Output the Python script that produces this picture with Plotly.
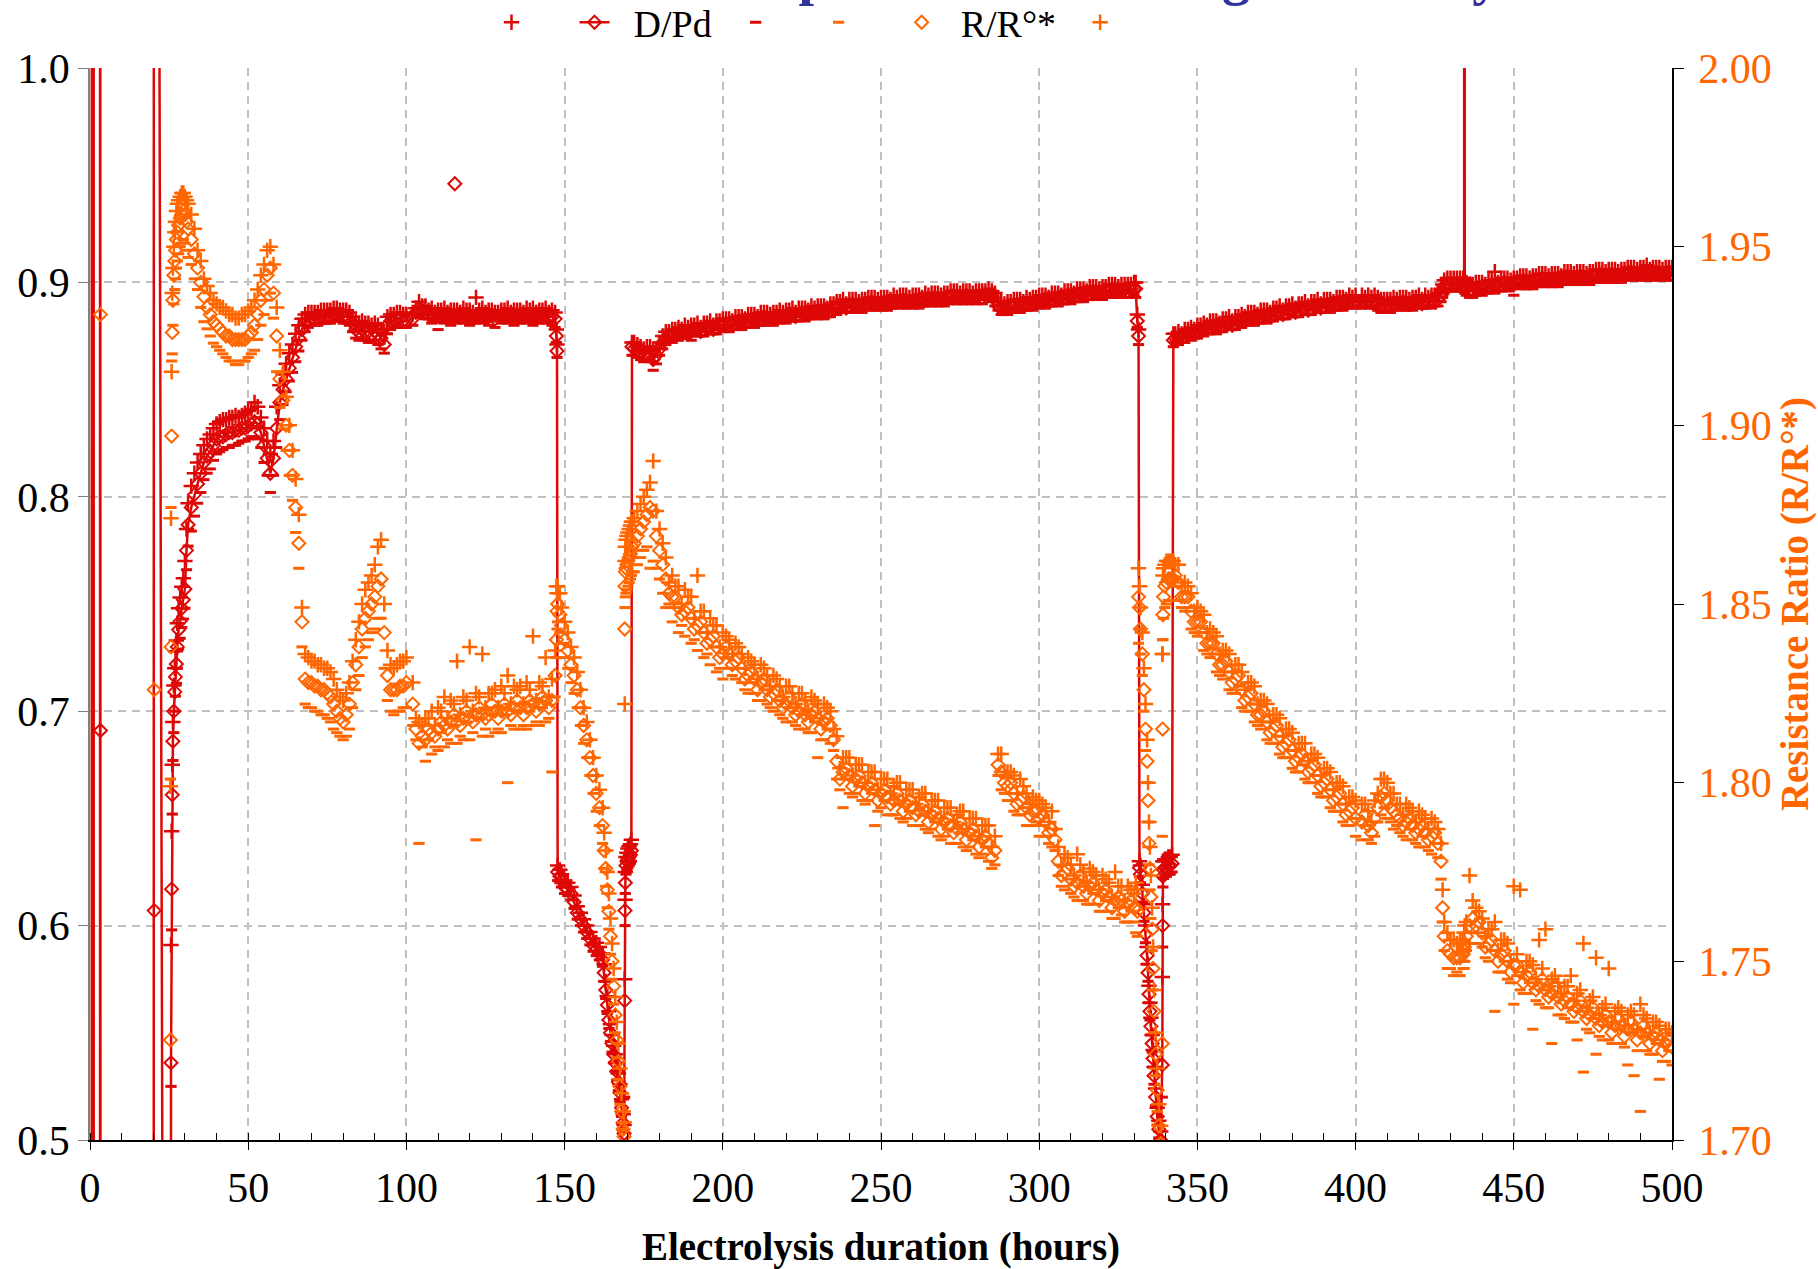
import plotly.graph_objects as go

N = None

# ---------------- data ----------------
hours = [
    0.55, 0.6, 1.15, 1.2, 3.15, 3.2, 3.3, 3.4, 20.1, 20.2, 20.3, 20.4, 25.4, 25.5,
    25.6, 25.8, 26.0, 26.2, 26.5, 26.8, 27.0, 27.3, 27.6, 28.0, 28.5, 29.0, 29.5, 30.0, 30.5,
    31, 32, 33, 34, 35, 36, 37, 38, 39, 40,
    41, 42, 43, 44, 45, 46, 47, 48, 49, 50,
    51, 52, 53, 54, 55, 56, 57, 58, 59, 60,
    61, 62, 63, 64, 65, 66, 67, 68, 69, 70,
    71, 72, 73, 74, 75, 76, 77, 78, 79, 80,
    81, 82, 83, 84, 85, 86, 87, 88, 89, 90,
    91, 92, 93, 94, 95, 96, 97, 98, 99, 100,
    102, 104, 106, 108, 110, 112, 114, 116, 118, 120, 122, 124, 126, 128, 130, 132, 134, 136, 138, 140, 142, 144, 146,
    147, 147.4, 147.6, 147.8,
    148.5, 149, 150, 151, 152, 153, 154, 155, 156, 157, 158, 159, 160, 161, 162,
    162.5, 163, 163.5, 164, 164.5, 165, 165.5, 166, 166.5, 167, 167.5, 168, 168.5, 168.8,
    169.0, 169.1, 169.2, 169.4, 169.7, 170.0, 170.4, 170.8, 171.1, 171.3,
    172, 173, 174, 175, 176, 177, 178, 179, 180, 181, 182, 184, 186, 188, 190, 192, 194, 196, 198, 200,
    202, 204, 206, 208, 210, 212, 214, 216, 218, 220,
    222, 224, 226, 228, 230, 232, 234, 236, 238, 240,
    242, 244, 246, 248, 250, 252, 254, 256, 258, 260,
    262, 264, 266, 268, 270, 272, 274, 276, 278, 280,
    282, 284, 286, 288, 290, 292, 294, 296, 298, 300,
    302, 304, 306, 308, 310, 312, 314, 316, 318, 320, 322, 324, 326, 328, 330,
    330.5, 331.0, 331.4, 331.7, 332.0, 332.6, 333.1, 333.6, 334.1, 334.4,
    334.7, 335.0, 335.3, 335.7, 336.0, 336.3, 336.8, 337.3, 337.8, 338.4,
    338.9, 339.0, 339.1, 339.3, 339.7, 340.2, 340.8, 341.4, 342.0, 342.4,
    344, 346, 348, 350, 352, 354, 356, 358, 360, 362, 364, 366, 368, 370, 372,
    374, 376, 378, 380, 382, 384, 386, 388, 390, 392, 394, 396, 398, 400,
    402, 404, 406, 407, 408, 409, 410, 411, 412, 414, 416, 418, 420, 422, 424, 426,
    427, 427.5, 428, 429, 430, 431, 432, 433, 434, 434.3, 434.4, 434.5, 435, 436, 437, 438,
    440, 442, 444, 446, 448, 450, 452, 454, 456, 458, 460, 462, 464, 466, 468, 470,
    472, 474, 476, 478, 480, 482, 484, 486, 488, 490, 492, 494, 496, 498, 500,
]

dpd_mean = [
    -1, 2, 2, -1, -1, 2, 0.691, -1, -1, 2, 0.607, -1, -1, -1,
    0.536, 0.617, 0.661, 0.686, 0.700, 0.709, 0.716, 0.722, 0.730, 0.738, 0.742, 0.748, 0.752, 0.757, 0.775,
    0.787, 0.795, 0.801, 0.806, 0.811, 0.816, 0.819, 0.821, 0.824, 0.827,
    0.828, 0.828, 0.829, 0.830, 0.830, 0.831, 0.831, 0.832, 0.832, 0.833,
    0.834, 0.835, 0.834, 0.830, 0.824, 0.818, 0.811, 0.818, 0.832, 0.844,
    0.850, 0.855, 0.860, 0.865, 0.870, 0.874, 0.878, 0.881, 0.882, 0.883,
    0.883, 0.883, 0.884, 0.884, 0.884, 0.884, 0.885, 0.885, 0.885, 0.884,
    0.884, 0.883, 0.881, 0.878, 0.877, 0.878, 0.877, 0.877, 0.876, 0.877,
    0.876, 0.874, 0.871, 0.880, 0.882, 0.882, 0.883, 0.883, 0.882, 0.882,
    0.883, 0.888, 0.886, 0.885, 0.884, 0.885, 0.884, 0.884, 0.885, 0.884, 0.884, 0.885, 0.884, 0.883, 0.884, 0.885, 0.884, 0.884, 0.885, 0.884, 0.884, 0.885, 0.884,
    0.883, 0.875, 0.868, 0.625,
    0.623, 0.621, 0.618, 0.617, 0.615, 0.611, 0.606, 0.603, 0.600, 0.597, 0.594, 0.591, 0.589, 0.587, 0.584,
    0.578, 0.570, 0.563, 0.556, 0.550, 0.545, 0.540, 0.536, 0.532, 0.527, 0.522, 0.515, 0.508, 0.503,
    0.565, 0.607, 0.620, 0.628, 0.630, 0.631, 0.632, 0.633, 0.635, 0.870,
    0.869, 0.868, 0.867, 0.866, 0.867, 0.867, 0.864, 0.866, 0.869, 0.872, 0.874, 0.875, 0.876, 0.877, 0.877, 0.878, 0.878, 0.879, 0.879, 0.880,
    0.880, 0.881, 0.881, 0.882, 0.882, 0.883, 0.883, 0.883, 0.884, 0.884,
    0.885, 0.885, 0.885, 0.886, 0.886, 0.886, 0.887, 0.888, 0.889, 0.889,
    0.889, 0.889, 0.890, 0.890, 0.890, 0.890, 0.891, 0.891, 0.891, 0.891,
    0.891, 0.892, 0.892, 0.892, 0.892, 0.893, 0.893, 0.893, 0.893, 0.893,
    0.893, 0.894, 0.892, 0.888, 0.888, 0.889, 0.889, 0.890, 0.890, 0.891,
    0.891, 0.892, 0.892, 0.893, 0.893, 0.894, 0.894, 0.895, 0.895, 0.895, 0.896, 0.896, 0.896, 0.896, 0.897,
    0.897, 0.882, 0.875, 0.627, 0.624, 0.615, 0.606, 0.596, 0.586, 0.578,
    0.568, 0.560, 0.553, 0.545, 0.538, 0.530, 0.520, 0.511, 0.505, 0.500,
    0.535, 0.600, 0.623, 0.626, 0.627, 0.627, 0.628, 0.628, 0.629, 0.873,
    0.874, 0.875, 0.876, 0.877, 0.878, 0.879, 0.879, 0.880, 0.881, 0.881, 0.882, 0.883, 0.883, 0.884, 0.884,
    0.885, 0.886, 0.886, 0.887, 0.887, 0.888, 0.888, 0.889, 0.889, 0.889, 0.890, 0.890, 0.891, 0.891,
    0.891, 0.891, 0.891, 0.890, 0.889, 0.889, 0.889, 0.889, 0.890, 0.890, 0.890, 0.890, 0.891, 0.891, 0.891, 0.892,
    0.894, 0.896, 0.898, 0.899, 0.899, 0.899, 0.899, 0.899, 0.899, 0.899, 2.0, 0.898, 0.897, 0.896, 0.896, 0.897,
    0.897, 0.898, 0.898, 0.899, 0.899, 0.899, 0.900, 0.900, 0.900, 0.901, 0.901, 0.901, 0.901, 0.902, 0.902, 0.902,
    0.902, 0.902, 0.903, 0.903, 0.903, 0.903, 0.903, 0.904, 0.904, 0.904, 0.904, 0.904, 0.904, 0.904, 0.904,
]

dpd_max = [
    N, N, N, N, N, N, N, N, N, N, N, N, N, N,
    0.591, 0.644, 0.675, 0.695, 0.712, 0.720, 0.728, 0.733, 0.741, 0.748, 0.753, 0.758, 0.762, 0.770, 0.785,
    0.797, 0.805, 0.811, 0.816, 0.820, 0.824, 0.827, 0.829, 0.832, 0.834,
    0.835, 0.836, 0.836, 0.837, 0.837, 0.838, 0.837, 0.838, 0.839, 0.840,
    0.841, 0.844, 0.842, 0.837, 0.832, 0.826, 0.820, 0.826, 0.842, 0.852,
    0.857, 0.862, 0.867, 0.871, 0.876, 0.880, 0.883, 0.885, 0.886, 0.886,
    0.886, 0.886, 0.887, 0.887, 0.887, 0.887, 0.888, 0.888, 0.887, 0.887,
    0.887, 0.886, 0.884, 0.882, 0.881, 0.882, 0.881, 0.881, 0.880, 0.881,
    0.880, 0.878, 0.876, 0.884, 0.885, 0.885, 0.886, 0.886, 0.885, 0.885,
    0.886, 0.891, 0.889, 0.888, 0.887, 0.888, 0.887, 0.887, 0.888, 0.887, 0.893, 0.888, 0.887, 0.886, 0.887, 0.888, 0.887, 0.887, 0.888, 0.888, 0.887, 0.888, 0.887,
    0.886, 0.878, 0.871, 0.628,
    0.626, 0.624, 0.621, 0.620, 0.618, 0.614, 0.609, 0.606, 0.603, 0.600, 0.597, 0.594, 0.592, 0.590, 0.587,
    0.582, 0.574, 0.567, 0.560, 0.554, 0.549, 0.544, 0.540, 0.536, 0.531, 0.526, 0.519, 0.512, 0.507,
    0.575, 0.612, 0.625, 0.632, 0.634, 0.636, 0.637, 0.638, 0.640, 0.872,
    0.872, 0.871, 0.870, 0.869, 0.870, 0.870, 0.868, 0.869, 0.872, 0.875, 0.877, 0.878, 0.879, 0.880, 0.880, 0.881, 0.881, 0.882, 0.882, 0.883,
    0.883, 0.884, 0.884, 0.885, 0.885, 0.886, 0.886, 0.886, 0.887, 0.887,
    0.888, 0.888, 0.888, 0.889, 0.889, 0.889, 0.890, 0.891, 0.892, 0.892,
    0.892, 0.892, 0.893, 0.893, 0.893, 0.893, 0.894, 0.894, 0.894, 0.894,
    0.894, 0.895, 0.895, 0.895, 0.895, 0.896, 0.896, 0.896, 0.896, 0.896,
    0.896, 0.897, 0.895, 0.891, 0.891, 0.892, 0.892, 0.893, 0.893, 0.894,
    0.894, 0.895, 0.895, 0.896, 0.896, 0.897, 0.897, 0.898, 0.898, 0.898, 0.899, 0.899, 0.899, 0.899, 0.900,
    0.900, 0.885, 0.878, 0.630, 0.628, 0.619, 0.610, 0.600, 0.590, 0.582,
    0.572, 0.564, 0.557, 0.549, 0.542, 0.534, 0.524, 0.515, 0.509, 0.504,
    0.576, 0.610, 0.630, 0.630, 0.631, 0.631, 0.632, 0.632, 0.633, 0.876,
    0.877, 0.878, 0.879, 0.880, 0.881, 0.882, 0.882, 0.883, 0.884, 0.884, 0.885, 0.886, 0.886, 0.887, 0.887,
    0.888, 0.889, 0.889, 0.890, 0.890, 0.891, 0.891, 0.892, 0.892, 0.892, 0.893, 0.893, 0.894, 0.894,
    0.894, 0.894, 0.894, 0.893, 0.892, 0.892, 0.892, 0.892, 0.893, 0.893, 0.893, 0.893, 0.894, 0.894, 0.894, 0.895,
    0.897, 0.899, 0.901, 0.902, 0.902, 0.902, 0.902, 0.902, 0.902, 0.902, N, 0.901, 0.900, 0.899, 0.899, 0.900,
    0.900, 0.901, 0.905, 0.902, 0.902, 0.902, 0.903, 0.903, 0.903, 0.904, 0.904, 0.904, 0.904, 0.905, 0.905, 0.905,
    0.905, 0.905, 0.906, 0.906, 0.906, 0.906, 0.906, 0.907, 0.907, 0.907, 0.908, 0.907, 0.907, 0.907, 0.907,
]

dpd_min = [
    N, N, N, N, N, N, N, N, N, N, N, N, N, N,
    0.525, 0.598, 0.652, 0.677, 0.690, 0.700, 0.707, 0.713, 0.720, 0.729, 0.734, 0.739, 0.743, 0.748, 0.766,
    0.777, 0.784, 0.791, 0.797, 0.802, 0.808, 0.811, 0.813, 0.817, 0.820,
    0.821, 0.822, 0.823, 0.823, 0.824, 0.824, 0.825, 0.826, 0.826, 0.827,
    0.828, 0.828, 0.827, 0.823, 0.816, 0.810, 0.802, 0.810, 0.823, 0.836,
    0.843, 0.849, 0.854, 0.858, 0.863, 0.868, 0.873, 0.877, 0.879, 0.880,
    0.880, 0.880, 0.881, 0.881, 0.881, 0.881, 0.882, 0.882, 0.882, 0.881,
    0.881, 0.880, 0.877, 0.874, 0.873, 0.874, 0.873, 0.872, 0.872, 0.873,
    0.871, 0.869, 0.867, 0.876, 0.878, 0.879, 0.880, 0.879, 0.879, 0.879,
    0.880, 0.885, 0.883, 0.881, 0.878, 0.881, 0.880, 0.881, 0.881, 0.880, 0.881, 0.881, 0.880, 0.879, 0.881, 0.881, 0.880, 0.881, 0.881, 0.880, 0.881, 0.881, 0.880,
    0.879, 0.872, 0.865, 0.621,
    0.620, 0.618, 0.615, 0.614, 0.612, 0.608, 0.603, 0.600, 0.597, 0.594, 0.591, 0.588, 0.586, 0.584, 0.581,
    0.574, 0.566, 0.559, 0.552, 0.546, 0.541, 0.536, 0.532, 0.528, 0.523, 0.518, 0.511, 0.504, 0.499,
    0.520, 0.600, 0.615, 0.624, 0.626, 0.627, 0.628, 0.629, 0.630, 0.866,
    0.866, 0.865, 0.864, 0.863, 0.864, 0.863, 0.859, 0.862, 0.866, 0.869, 0.871, 0.872, 0.873, 0.874, 0.873, 0.875, 0.875, 0.876, 0.876, 0.877,
    0.877, 0.878, 0.878, 0.879, 0.879, 0.880, 0.880, 0.880, 0.881, 0.881,
    0.882, 0.882, 0.882, 0.883, 0.883, 0.883, 0.884, 0.885, 0.886, 0.886,
    0.886, 0.886, 0.887, 0.887, 0.887, 0.887, 0.888, 0.888, 0.888, 0.888,
    0.888, 0.889, 0.889, 0.889, 0.889, 0.890, 0.890, 0.890, 0.890, 0.890,
    0.890, 0.891, 0.889, 0.885, 0.885, 0.886, 0.886, 0.887, 0.887, 0.888,
    0.888, 0.889, 0.889, 0.890, 0.890, 0.891, 0.891, 0.892, 0.892, 0.892, 0.893, 0.893, 0.893, 0.893, 0.894,
    0.893, 0.879, 0.871, 0.623, 0.620, 0.611, 0.602, 0.592, 0.582, 0.574,
    0.564, 0.556, 0.549, 0.541, 0.534, 0.526, 0.516, 0.507, 0.501, 0.497,
    0.520, 0.590, 0.618, 0.622, 0.623, 0.623, 0.624, 0.624, 0.625, 0.870,
    0.871, 0.872, 0.873, 0.874, 0.875, 0.876, 0.876, 0.877, 0.878, 0.878, 0.879, 0.880, 0.880, 0.881, 0.881,
    0.882, 0.883, 0.883, 0.884, 0.884, 0.885, 0.885, 0.886, 0.886, 0.886, 0.887, 0.887, 0.888, 0.888,
    0.888, 0.888, 0.888, 0.887, 0.886, 0.886, 0.886, 0.886, 0.887, 0.887, 0.887, 0.887, 0.888, 0.888, 0.888, 0.889,
    0.891, 0.893, 0.895, 0.896, 0.896, 0.896, 0.896, 0.896, 0.896, 0.896, N, 0.895, 0.894, 0.893, 0.893, 0.894,
    0.894, 0.895, 0.895, 0.896, 0.896, 0.894, 0.897, 0.897, 0.897, 0.898, 0.898, 0.898, 0.898, 0.899, 0.899, 0.899,
    0.899, 0.899, 0.900, 0.900, 0.900, 0.900, 0.900, 0.901, 0.901, 0.901, 0.901, 0.901, 0.901, 0.901, 0.901,
]

rr_mean = [
    N, N, N, N, N, N, 1.931, N, N, N, 1.826, N, 1.728, N,
    1.838, 1.897, 1.926, 1.935, 1.942, 1.946, 1.949, 1.952, 1.954, 1.956, 1.958, 1.959, 1.960, 1.959, 1.957,
    1.955, 1.952, 1.948, 1.944, 1.940, 1.936, 1.933, 1.931, 1.929, 1.928,
    1.927, 1.926, 1.925, 1.925, 1.924, 1.924, 1.924, 1.924, 1.924, 1.925,
    1.926, 1.928, 1.931, 1.935, 1.938, 1.942, 1.944, 1.937, 1.925, 1.913,
    1.907, 1.900, 1.893, 1.886, 1.877, 1.867, 1.845, 1.829, 1.828, 1.828,
    1.827, 1.827, 1.826, 1.826, 1.825, 1.824, 1.822, 1.820, 1.818, 1.817,
    1.819, 1.822, 1.828, 1.833, 1.838, 1.843, 1.846, 1.848, 1.850, 1.852,
    1.855, 1.857, 1.842, 1.830, 1.826, 1.826, 1.826, 1.827, 1.827, 1.828,
    1.822, 1.811, 1.812, 1.814, 1.815, 1.816, 1.817, 1.817, 1.818, 1.818, 1.819, 1.819, 1.819, 1.820, 1.820, 1.820, 1.821, 1.821, 1.821, 1.822, 1.822, 1.823, 1.823,
    1.830, 1.840, 1.848, 1.850,
    1.847, 1.844, 1.840, 1.837, 1.833, 1.830, 1.826, 1.821, 1.816, 1.812, 1.807, 1.802, 1.797, 1.793, 1.788,
    1.781, 1.776, 1.770, 1.764, 1.757, 1.750, 1.743, 1.735, 1.728, 1.722, 1.715, 1.708, 1.703, 1.701,
    1.843, 1.855, 1.859, 1.860, 1.861, 1.862, 1.863, 1.864, 1.865, 1.866,
    1.867, 1.869, 1.871, 1.873, 1.875, 1.877, 1.876, 1.869, 1.865, 1.861, 1.857, 1.852, 1.849, 1.848, 1.846, 1.844, 1.842, 1.840, 1.838, 1.836,
    1.836, 1.834, 1.832, 1.830, 1.829, 1.828, 1.826, 1.825, 1.823, 1.822,
    1.821, 1.820, 1.819, 1.819, 1.818, 1.817, 1.816, 1.806, 1.803, 1.802,
    1.801, 1.800, 1.799, 1.798, 1.797, 1.796, 1.795, 1.795, 1.794, 1.793,
    1.792, 1.792, 1.791, 1.790, 1.789, 1.788, 1.787, 1.787, 1.786, 1.785,
    1.784, 1.783, 1.781, 1.803, 1.799, 1.797, 1.795, 1.793, 1.792, 1.790,
    1.789, 1.787, 1.778, 1.775, 1.773, 1.772, 1.771, 1.771, 1.770, 1.769, 1.768, 1.767, 1.767, 1.766, 1.765,
    1.765, 1.764, 1.852, 1.849, 1.843, 1.836, 1.826, 1.815, 1.806, 1.795,
    1.783, 1.776, 1.768, 1.759, 1.748, 1.736, 1.724, 1.714, 1.704, 1.699,
    1.727, 1.815, 1.847, 1.852, 1.855, 1.856, 1.857, 1.857, 1.857, 1.857,
    1.856, 1.852, 1.848, 1.845, 1.842, 1.839, 1.836, 1.833, 1.831, 1.829, 1.826, 1.824, 1.822, 1.819, 1.817,
    1.815, 1.813, 1.811, 1.809, 1.807, 1.806, 1.804, 1.802, 1.800, 1.798, 1.796, 1.794, 1.792, 1.790,
    1.789, 1.788, 1.790, 1.793, 1.796, 1.797, 1.795, 1.793, 1.792, 1.790, 1.789, 1.788, 1.787, 1.786, 1.785, 1.783,
    1.778, 1.765, 1.757, 1.753, 1.752, 1.751, 1.751, 1.751, 1.752, 1.753, 1.754, 1.755, 1.757, 1.760, 1.762, 1.760,
    1.758, 1.755, 1.753, 1.752, 1.750, 1.749, 1.747, 1.746, 1.744, 1.743, 1.742, 1.741, 1.740, 1.739, 1.738, 1.737,
    1.736, 1.735, 1.734, 1.733, 1.733, 1.732, 1.732, 1.731, 1.731, 1.730, 1.730, 1.729, 1.728, 1.727, 1.726,
]

rr_max = [
    N, N, N, N, N, N, N, N, N, N, N, N, 1.799, N,
    1.874, 1.915, 1.937, 1.944, 1.950, 1.954, 1.957, 1.960, 1.962, 1.963, 1.964, 1.965, 1.965, 1.964, 1.963,
    1.962, 1.959, 1.955, 1.949, 1.946, 1.941, 1.939, 1.937, 1.935, 1.934,
    1.933, 1.933, 1.932, 1.931, 1.931, 1.930, 1.930, 1.931, 1.931, 1.932,
    1.933, 1.935, 1.938, 1.942, 1.945, 1.949, 1.950, 1.945, 1.933, 1.921,
    1.915, 1.908, 1.900, 1.893, 1.885, 1.875, 1.849, 1.836, 1.835, 1.834,
    1.834, 1.833, 1.833, 1.832, 1.832, 1.831, 1.829, 1.826, 1.824, 1.823,
    1.825, 1.828, 1.834, 1.840, 1.845, 1.850, 1.854, 1.856, 1.858, 1.861,
    1.866, 1.868, 1.850, 1.837, 1.833, 1.832, 1.833, 1.834, 1.834, 1.835,
    1.828, 1.817, 1.818, 1.820, 1.821, 1.824, 1.823, 1.834, 1.824, 1.838, 1.825, 1.836, 1.825, 1.826, 1.827, 1.830, 1.827, 1.827, 1.828, 1.841, 1.828, 1.835, 1.829,
    1.837, 1.855, 1.853, 1.855,
    1.853, 1.849, 1.845, 1.842, 1.838, 1.835, 1.831, 1.826, 1.821, 1.817, 1.812, 1.807, 1.802, 1.798, 1.793,
    1.786, 1.781, 1.775, 1.769, 1.762, 1.755, 1.748, 1.740, 1.733, 1.727, 1.720, 1.713, 1.708, 1.705,
    1.822, 1.862, 1.866, 1.868, 1.869, 1.870, 1.871, 1.872, 1.873, 1.873,
    1.874, 1.876, 1.878, 1.880, 1.882, 1.884, 1.890, 1.876, 1.871, 1.867, 1.863, 1.858, 1.855, 1.854, 1.852, 1.858, 1.848, 1.846, 1.844, 1.842,
    1.840, 1.839, 1.836, 1.835, 1.833, 1.833, 1.830, 1.830, 1.827, 1.827,
    1.825, 1.825, 1.823, 1.824, 1.822, 1.822, 1.820, 1.813, 1.807, 1.807,
    1.805, 1.805, 1.803, 1.803, 1.801, 1.801, 1.799, 1.800, 1.798, 1.798,
    1.796, 1.797, 1.795, 1.795, 1.793, 1.793, 1.791, 1.792, 1.790, 1.790,
    1.788, 1.788, 1.785, 1.808, 1.803, 1.802, 1.801, 1.797, 1.796, 1.795,
    1.793, 1.792, 1.782, 1.780, 1.777, 1.780, 1.775, 1.776, 1.774, 1.774, 1.772, 1.775, 1.771, 1.771, 1.769,
    1.772, 1.770, 1.860, 1.855, 1.849, 1.842, 1.832, 1.822, 1.812, 1.800,
    1.789, 1.782, 1.774, 1.765, 1.754, 1.742, 1.730, 1.720, 1.710, 1.704,
    1.836, 1.836, 1.858, 1.860, 1.861, 1.862, 1.862, 1.862, 1.862, 1.862,
    1.861, 1.856, 1.853, 1.849, 1.847, 1.843, 1.841, 1.837, 1.836, 1.833, 1.831, 1.828, 1.827, 1.823, 1.822,
    1.819, 1.818, 1.815, 1.814, 1.811, 1.811, 1.808, 1.807, 1.804, 1.803, 1.800, 1.799, 1.796, 1.795,
    1.794, 1.792, 1.795, 1.797, 1.801, 1.801, 1.800, 1.797, 1.797, 1.794, 1.794, 1.792, 1.792, 1.790, 1.790, 1.787,
    1.783, 1.770, 1.761, 1.758, 1.756, 1.756, 1.755, 1.756, 1.756, 1.758, 1.758, 1.760, 1.761, 1.774, 1.767, 1.765,
    1.762, 1.759, 1.761, 1.756, 1.755, 1.771, 1.770, 1.750, 1.749, 1.756, 1.759, 1.745, 1.744, 1.743, 1.746, 1.741,
    1.755, 1.739, 1.751, 1.737, 1.748, 1.736, 1.736, 1.735, 1.735, 1.738, 1.734, 1.733, 1.732, 1.731, 1.730,
]

rr_min = [
    N, N, N, N, N, N, N, N, N, N, N, N, 1.801, N,
    1.877, 1.918, 1.920, 1.928, 1.934, 1.938, 1.941, 1.944, 1.946, 1.948, 1.950, 1.951, 1.952, 1.951, 1.949,
    1.947, 1.945, 1.941, 1.938, 1.933, 1.929, 1.927, 1.925, 1.923, 1.922,
    1.921, 1.920, 1.919, 1.918, 1.918, 1.917, 1.917, 1.918, 1.918, 1.919,
    1.920, 1.921, 1.924, 1.928, 1.931, 1.935, 1.937, 1.930, 1.915, 1.905,
    1.899, 1.893, 1.886, 1.879, 1.870, 1.860, 1.838, 1.822, 1.821, 1.821,
    1.820, 1.820, 1.819, 1.819, 1.818, 1.817, 1.815, 1.814, 1.813, 1.812,
    1.813, 1.815, 1.821, 1.826, 1.830, 1.835, 1.838, 1.840, 1.842, 1.843,
    1.846, 1.846, 1.832, 1.823, 1.820, 1.819, 1.820, 1.820, 1.821, 1.821,
    1.816, 1.783, 1.806, 1.808, 1.809, 1.810, 1.811, 1.811, 1.812, 1.812, 1.784, 1.813, 1.813, 1.814, 1.814, 1.800, 1.815, 1.815, 1.815, 1.816, 1.816, 1.817, 1.803,
    1.824, 1.835, 1.843, 1.845,
    1.842, 1.839, 1.835, 1.832, 1.828, 1.825, 1.821, 1.816, 1.811, 1.807, 1.802, 1.797, 1.792, 1.788, 1.783,
    1.776, 1.771, 1.765, 1.759, 1.752, 1.745, 1.738, 1.730, 1.723, 1.717, 1.710, 1.703, 1.699, 1.697,
    N, 1.849, 1.852, 1.853, 1.854, 1.855, 1.856, 1.857, 1.858, 1.859,
    1.859, 1.861, 1.863, 1.865, 1.866, 1.860, 1.862, 1.860, 1.857, 1.853, 1.849, 1.845, 1.842, 1.841, 1.839, 1.837, 1.835, 1.833, 1.831, 1.829,
    1.832, 1.829, 1.828, 1.825, 1.825, 1.823, 1.822, 1.820, 1.819, 1.817,
    1.817, 1.815, 1.815, 1.814, 1.807, 1.812, 1.811, 1.801, 1.793, 1.797,
    1.797, 1.795, 1.795, 1.788, 1.793, 1.791, 1.791, 1.790, 1.790, 1.788,
    1.788, 1.787, 1.787, 1.785, 1.785, 1.783, 1.783, 1.782, 1.782, 1.780,
    1.780, 1.778, 1.777, 1.798, 1.795, 1.792, 1.791, 1.788, 1.788, 1.785,
    1.785, 1.782, 1.774, 1.770, 1.769, 1.767, 1.767, 1.766, 1.766, 1.764, 1.764, 1.762, 1.763, 1.761, 1.761,
    1.758, 1.757, 1.839, 1.843, 1.836, 1.830, 1.820, 1.809, 1.800, 1.789,
    1.777, 1.770, 1.762, 1.753, 1.742, 1.730, 1.718, 1.708, 1.698, 1.694,
    1.785, 1.840, 1.840, 1.846, 1.849, 1.850, 1.851, 1.851, 1.851, 1.851,
    1.851, 1.848, 1.843, 1.841, 1.837, 1.835, 1.831, 1.829, 1.826, 1.825, 1.821, 1.820, 1.817, 1.815, 1.812,
    1.811, 1.808, 1.807, 1.804, 1.803, 1.801, 1.800, 1.797, 1.796, 1.793, 1.792, 1.789, 1.788, 1.785,
    1.784, 1.784, 1.785, 1.789, 1.791, 1.793, 1.790, 1.789, 1.787, 1.786, 1.784, 1.784, 1.782, 1.782, 1.780, 1.779,
    1.773, 1.761, 1.753, 1.748, 1.748, 1.746, 1.747, 1.746, 1.748, 1.748, 1.750, 1.750, 1.753, 1.755, 1.758, 1.755,
    1.754, 1.750, 1.736, 1.747, 1.745, 1.738, 1.742, 1.741, 1.731, 1.738, 1.737, 1.727, 1.735, 1.734, 1.733, 1.728,
    1.719, 1.730, 1.724, 1.728, 1.728, 1.727, 1.727, 1.721, 1.718, 1.708, 1.725, 1.724, 1.717, 1.722, 1.721,
]

# additional readings taken between the main ones in the dense stretches
hours_fill = [
    103, 105, 107, 109, 111, 113, 115, 117, 119, 121, 123, 125, 127, 129, 131, 133, 135, 137, 139, 141, 143, 145,
    183, 185, 187, 189, 191, 193, 195, 197, 199,
    201, 203, 205, 207, 209, 211, 213, 215, 217, 219,
    221, 223, 225, 227, 229, 231, 233, 235, 237, 239,
    241, 243, 245, 247, 249, 251, 253, 255, 257, 259,
    261, 263, 265, 267, 269, 271, 273, 275, 277, 279,
    281, 283, 285, 287, 289, 291, 293, 295, 297, 299,
    301, 303, 305, 307, 309, 311, 313, 315, 317, 319, 321, 323, 325, 327, 329,
    343, 345, 347, 349, 351, 353, 355, 357, 359, 361, 363, 365, 367, 369, 371,
    373, 375, 377, 379, 381, 383, 385, 387, 389, 391, 393, 395, 397, 399,
    403, 405, 413, 415, 417, 419, 421, 423, 425,
    439, 441, 443, 445, 447, 449, 451, 453, 455, 457, 459, 461, 463, 465, 467, 469,
    471, 473, 475, 477, 479, 481, 483, 485, 487, 489, 491, 493, 495, 497, 499,
]

dpd_mean_fill = [
    0.886, 0.887, 0.885, 0.884, 0.885, 0.884, 0.885, 0.884, 0.885, 0.884, 0.885, 0.884, 0.885, 0.884, 0.885, 0.884, 0.885, 0.884, 0.885, 0.884, 0.885, 0.884,
    0.875, 0.876, 0.876, 0.877, 0.878, 0.877, 0.879, 0.878, 0.880,
    0.881, 0.880, 0.882, 0.881, 0.883, 0.882, 0.884, 0.883, 0.884, 0.884,
    0.885, 0.884, 0.886, 0.885, 0.886, 0.887, 0.886, 0.888, 0.889, 0.888,
    0.890, 0.889, 0.890, 0.891, 0.890, 0.891, 0.890, 0.891, 0.892, 0.891,
    0.892, 0.891, 0.892, 0.893, 0.892, 0.893, 0.894, 0.893, 0.894, 0.893,
    0.894, 0.894, 0.894, 0.889, 0.888, 0.889, 0.890, 0.889, 0.890, 0.891,
    0.892, 0.891, 0.893, 0.892, 0.894, 0.893, 0.895, 0.894, 0.896, 0.895, 0.896, 0.897, 0.896, 0.897, 0.897,
    0.874, 0.874, 0.876, 0.876, 0.878, 0.878, 0.880, 0.879, 0.881, 0.880, 0.882, 0.882, 0.884, 0.883, 0.885,
    0.884, 0.886, 0.885, 0.887, 0.886, 0.888, 0.887, 0.889, 0.888, 0.890, 0.889, 0.891, 0.890, 0.891,
    0.891, 0.891, 0.890, 0.891, 0.890, 0.891, 0.890, 0.891, 0.891,
    0.898, 0.897, 0.899, 0.898, 0.900, 0.899, 0.900, 0.901, 0.900, 0.901, 0.902, 0.901, 0.902, 0.901, 0.903, 0.902,
    0.903, 0.902, 0.903, 0.904, 0.903, 0.904, 0.903, 0.904, 0.905, 0.904, 0.905, 0.904, 0.905, 0.904, 0.905,
]

dpd_max_fill = [
    0.888, 0.889, 0.887, 0.886, 0.887, 0.886, 0.887, 0.886, 0.887, 0.886, 0.887, 0.886, 0.887, 0.886, 0.887, 0.886, 0.887, 0.886, 0.887, 0.886, 0.887, 0.886,
    0.877, 0.878, 0.878, 0.879, 0.880, 0.879, 0.881, 0.880, 0.882,
    0.883, 0.882, 0.884, 0.883, 0.885, 0.884, 0.886, 0.885, 0.886, 0.886,
    0.887, 0.886, 0.888, 0.887, 0.888, 0.889, 0.888, 0.890, 0.891, 0.890,
    0.892, 0.891, 0.892, 0.893, 0.892, 0.893, 0.892, 0.893, 0.894, 0.893,
    0.894, 0.893, 0.894, 0.895, 0.894, 0.895, 0.896, 0.895, 0.896, 0.895,
    0.896, 0.896, 0.896, 0.891, 0.890, 0.891, 0.892, 0.891, 0.892, 0.893,
    0.894, 0.893, 0.895, 0.894, 0.896, 0.895, 0.897, 0.896, 0.898, 0.897, 0.898, 0.899, 0.898, 0.899, 0.899,
    0.876, 0.876, 0.878, 0.878, 0.880, 0.880, 0.882, 0.881, 0.883, 0.882, 0.884, 0.884, 0.886, 0.885, 0.887,
    0.886, 0.888, 0.887, 0.889, 0.888, 0.890, 0.889, 0.891, 0.890, 0.892, 0.891, 0.893, 0.892, 0.893,
    0.893, 0.893, 0.892, 0.893, 0.892, 0.893, 0.892, 0.893, 0.893,
    0.900, 0.899, 0.901, 0.900, 0.902, 0.901, 0.902, 0.903, 0.902, 0.903, 0.904, 0.903, 0.904, 0.903, 0.905, 0.904,
    0.905, 0.904, 0.905, 0.906, 0.905, 0.906, 0.905, 0.906, 0.907, 0.906, 0.907, 0.906, 0.907, 0.906, 0.907,
]

dpd_min_fill = [
    0.884, 0.885, 0.883, 0.882, 0.883, 0.882, 0.883, 0.882, 0.883, 0.882, 0.883, 0.882, 0.883, 0.882, 0.883, 0.882, 0.883, 0.882, 0.883, 0.882, 0.883, 0.882,
    0.873, 0.874, 0.874, 0.875, 0.876, 0.875, 0.877, 0.876, 0.878,
    0.879, 0.878, 0.880, 0.879, 0.881, 0.880, 0.882, 0.881, 0.882, 0.882,
    0.883, 0.882, 0.884, 0.883, 0.884, 0.885, 0.884, 0.886, 0.887, 0.886,
    0.888, 0.887, 0.888, 0.889, 0.888, 0.889, 0.888, 0.889, 0.890, 0.889,
    0.890, 0.889, 0.890, 0.891, 0.890, 0.891, 0.892, 0.891, 0.892, 0.891,
    0.892, 0.892, 0.892, 0.887, 0.886, 0.887, 0.888, 0.887, 0.888, 0.889,
    0.890, 0.889, 0.891, 0.890, 0.892, 0.891, 0.893, 0.892, 0.894, 0.893, 0.894, 0.895, 0.894, 0.895, 0.895,
    0.872, 0.872, 0.874, 0.874, 0.876, 0.876, 0.878, 0.877, 0.879, 0.878, 0.880, 0.880, 0.882, 0.881, 0.883,
    0.882, 0.884, 0.883, 0.885, 0.884, 0.886, 0.885, 0.887, 0.886, 0.888, 0.887, 0.889, 0.888, 0.889,
    0.889, 0.889, 0.888, 0.889, 0.888, 0.889, 0.888, 0.889, 0.889,
    0.896, 0.895, 0.897, 0.896, 0.898, 0.897, 0.898, 0.899, 0.898, 0.899, 0.900, 0.899, 0.900, 0.899, 0.901, 0.900,
    0.901, 0.900, 0.901, 0.902, 0.901, 0.902, 0.901, 0.902, 0.903, 0.902, 0.903, 0.902, 0.903, 0.902, 0.903,
]

rr_mean_fill = [
    1.815, 1.813, 1.815, 1.813, 1.817, 1.815, 1.819, 1.816, 1.820, 1.817, 1.821, 1.818, 1.822, 1.818, 1.822, 1.819, 1.823, 1.819, 1.823, 1.820, 1.824, 1.821,
    1.853, 1.852, 1.847, 1.849, 1.843, 1.845, 1.839, 1.841, 1.835,
    1.838, 1.833, 1.835, 1.829, 1.831, 1.826, 1.829, 1.824, 1.826, 1.821,
    1.824, 1.819, 1.822, 1.817, 1.820, 1.815, 1.818, 1.812, 1.801, 1.804,
    1.799, 1.802, 1.797, 1.800, 1.795, 1.798, 1.794, 1.797, 1.792, 1.795,
    1.791, 1.794, 1.789, 1.792, 1.787, 1.790, 1.786, 1.789, 1.784, 1.787,
    1.782, 1.785, 1.779, 1.805, 1.800, 1.800, 1.794, 1.796, 1.791, 1.792,
    1.791, 1.786, 1.784, 1.774, 1.776, 1.771, 1.774, 1.769, 1.772, 1.767, 1.770, 1.765, 1.768, 1.764, 1.767,
    1.858, 1.852, 1.852, 1.845, 1.845, 1.839, 1.839, 1.833, 1.834, 1.828, 1.830, 1.823, 1.825, 1.819, 1.820,
    1.814, 1.816, 1.810, 1.812, 1.806, 1.808, 1.803, 1.805, 1.799, 1.801, 1.795, 1.797, 1.791, 1.793,
    1.791, 1.786, 1.791, 1.788, 1.790, 1.786, 1.788, 1.784, 1.786,
    1.761, 1.754, 1.756, 1.750, 1.753, 1.747, 1.749, 1.744, 1.747, 1.742, 1.745, 1.740, 1.743, 1.738, 1.740, 1.736,
    1.739, 1.734, 1.737, 1.732, 1.735, 1.730, 1.734, 1.729, 1.733, 1.728, 1.732, 1.727, 1.730, 1.725, 1.728,
]

rr_max_fill = [
    1.818, 1.816, 1.818, 1.816, 1.820, 1.818, 1.822, 1.819, 1.823, 1.820, 1.824, 1.821, 1.825, 1.821, 1.825, 1.822, 1.826, 1.822, 1.826, 1.823, 1.827, 1.824,
    1.856, 1.855, 1.850, 1.852, 1.846, 1.848, 1.842, 1.844, 1.838,
    1.841, 1.836, 1.838, 1.832, 1.834, 1.829, 1.832, 1.827, 1.829, 1.824,
    1.827, 1.822, 1.825, 1.820, 1.823, 1.818, 1.821, 1.815, 1.804, 1.807,
    1.802, 1.805, 1.800, 1.803, 1.798, 1.801, 1.797, 1.800, 1.795, 1.798,
    1.794, 1.797, 1.792, 1.795, 1.790, 1.793, 1.789, 1.792, 1.787, 1.790,
    1.785, 1.788, 1.782, 1.808, 1.803, 1.803, 1.797, 1.799, 1.794, 1.795,
    1.794, 1.789, 1.787, 1.777, 1.779, 1.774, 1.777, 1.772, 1.775, 1.770, 1.773, 1.768, 1.771, 1.767, 1.770,
    1.861, 1.855, 1.855, 1.848, 1.848, 1.842, 1.842, 1.836, 1.837, 1.831, 1.833, 1.826, 1.828, 1.822, 1.823,
    1.817, 1.819, 1.813, 1.815, 1.809, 1.811, 1.806, 1.808, 1.802, 1.804, 1.798, 1.800, 1.794, 1.796,
    1.794, 1.789, 1.794, 1.791, 1.793, 1.789, 1.791, 1.787, 1.789,
    1.764, 1.757, 1.759, 1.753, 1.756, 1.750, 1.752, 1.747, 1.750, 1.745, 1.748, 1.743, 1.746, 1.741, 1.743, 1.739,
    1.742, 1.737, 1.740, 1.735, 1.738, 1.733, 1.737, 1.732, 1.736, 1.731, 1.735, 1.730, 1.733, 1.728, 1.731,
]

rr_min_fill = [
    1.812, 1.810, 1.812, 1.810, 1.814, 1.812, 1.816, 1.813, 1.817, 1.814, 1.818, 1.815, 1.819, 1.815, 1.819, 1.816, 1.820, 1.816, 1.820, 1.817, 1.821, 1.818,
    1.850, 1.849, 1.844, 1.846, 1.840, 1.842, 1.836, 1.838, 1.832,
    1.835, 1.830, 1.832, 1.826, 1.828, 1.823, 1.826, 1.821, 1.823, 1.818,
    1.821, 1.816, 1.819, 1.814, 1.817, 1.812, 1.815, 1.809, 1.798, 1.801,
    1.796, 1.799, 1.794, 1.797, 1.792, 1.795, 1.791, 1.794, 1.789, 1.792,
    1.788, 1.791, 1.786, 1.789, 1.784, 1.787, 1.783, 1.786, 1.781, 1.784,
    1.779, 1.782, 1.776, 1.802, 1.797, 1.797, 1.791, 1.793, 1.788, 1.789,
    1.788, 1.783, 1.781, 1.771, 1.773, 1.768, 1.771, 1.766, 1.769, 1.764, 1.767, 1.762, 1.765, 1.761, 1.764,
    1.855, 1.849, 1.849, 1.842, 1.842, 1.836, 1.836, 1.830, 1.831, 1.825, 1.827, 1.820, 1.822, 1.816, 1.817,
    1.811, 1.813, 1.807, 1.809, 1.803, 1.805, 1.800, 1.802, 1.796, 1.798, 1.792, 1.794, 1.788, 1.790,
    1.788, 1.783, 1.788, 1.785, 1.787, 1.783, 1.785, 1.781, 1.783,
    1.758, 1.751, 1.753, 1.747, 1.750, 1.744, 1.746, 1.741, 1.744, 1.739, 1.742, 1.737, 1.740, 1.735, 1.737, 1.733,
    1.736, 1.731, 1.734, 1.729, 1.732, 1.727, 1.731, 1.726, 1.730, 1.725, 1.729, 1.724, 1.727, 1.722, 1.725,
]

# isolated D/Pd mean reading near 115 h
dpd_outlier_hours = [115.3]
dpd_outlier_vals = [0.946]

x_ticks = [0, 50, 100, 150, 200, 250, 300, 350, 400, 450, 500]
y_ticks = [0.5, 0.6, 0.7, 0.8, 0.9, 1.0]
y2_ticks = [1.70, 1.75, 1.80, 1.85, 1.90, 1.95, 2.00]

lens = {k: len(v) for k, v in dict(hours=hours, dpd_mean=dpd_mean, dpd_max=dpd_max, dpd_min=dpd_min,
                                  rr_mean=rr_mean, rr_max=rr_max, rr_min=rr_min).items()}
assert len(set(lens.values())) == 1, lens
lens_f = {k: len(v) for k, v in dict(hours=hours_fill, dm=dpd_mean_fill, dx=dpd_max_fill, dn=dpd_min_fill,
                                    rm=rr_mean_fill, rx=rr_max_fill, rn=rr_min_fill).items()}
assert len(set(lens_f.values())) == 1, lens_f

# ---------------- styling ----------------
RED = "#DD0806"
ORANGE = "#FF6600"
FONT = "Liberation Serif"
GRID = "#C0C0C0"
NB = "\u00A0"

fig = go.Figure()

plus_red = dict(symbol="cross-thin", size=11, color=RED, line=dict(color=RED, width=2.5))
dash_red = dict(symbol="line-ew", size=8, color=RED, line=dict(color=RED, width=3))
dia_red = dict(symbol="diamond-open", size=10, color=RED, line=dict(color=RED, width=2))
plus_or = dict(symbol="cross-thin", size=11, color=ORANGE, line=dict(color=ORANGE, width=2.5))
dash_or = dict(symbol="line-ew", size=8, color=ORANGE, line=dict(color=ORANGE, width=3))
dia_or = dict(symbol="diamond-open", size=10, color=ORANGE, line=dict(color=ORANGE, width=2))

# D/Pd series (left axis)
fig.add_trace(go.Scatter(x=hours, y=dpd_max, mode="markers", name=NB * 4, marker=plus_red,
                         xaxis="x", yaxis="y", legendrank=1))
fig.add_trace(go.Scatter(x=hours, y=dpd_mean, mode="lines+markers", name=NB * 2 + "D/Pd" + NB * 2,
                         marker=dia_red, line=dict(color=RED, width=2.5), connectgaps=False,
                         xaxis="x", yaxis="y", legendrank=2))
fig.add_trace(go.Scatter(x=hours, y=dpd_min, mode="markers", name=NB * 4, marker=dash_red,
                         xaxis="x", yaxis="y", legendrank=3))
fig.add_trace(go.Scatter(x=hours_fill, y=dpd_max_fill, mode="markers", marker=plus_red,
                         showlegend=False, xaxis="x", yaxis="y"))
fig.add_trace(go.Scatter(x=hours_fill, y=dpd_mean_fill, mode="markers", marker=dia_red,
                         showlegend=False, xaxis="x", yaxis="y"))
fig.add_trace(go.Scatter(x=hours_fill, y=dpd_min_fill, mode="markers", marker=dash_red,
                         showlegend=False, xaxis="x", yaxis="y"))
fig.add_trace(go.Scatter(x=dpd_outlier_hours, y=dpd_outlier_vals, mode="markers", marker=dia_red,
                         showlegend=False, xaxis="x", yaxis="y"))

# R/R°* series (right axis)
fig.add_trace(go.Scatter(x=hours, y=rr_min, mode="markers", name=NB * 4, marker=dash_or,
                         xaxis="x", yaxis="y2", legendrank=4))
fig.add_trace(go.Scatter(x=hours, y=rr_mean, mode="markers", name=NB * 2 + "R/R°*" + NB * 2,
                         marker=dia_or, xaxis="x", yaxis="y2", legendrank=5))
fig.add_trace(go.Scatter(x=hours, y=rr_max, mode="markers", name=NB * 4, marker=plus_or,
                         xaxis="x", yaxis="y2", legendrank=6))
fig.add_trace(go.Scatter(x=hours_fill, y=rr_min_fill, mode="markers", marker=dash_or,
                         showlegend=False, xaxis="x", yaxis="y2"))
fig.add_trace(go.Scatter(x=hours_fill, y=rr_mean_fill, mode="markers", marker=dia_or,
                         showlegend=False, xaxis="x", yaxis="y2"))
fig.add_trace(go.Scatter(x=hours_fill, y=rr_max_fill, mode="markers", marker=plus_or,
                         showlegend=False, xaxis="x", yaxis="y2"))

fig.update_layout(
    width=1818, height=1269,
    margin=dict(l=90, r=146, t=68, b=129, autoexpand=False),
    paper_bgcolor="white", plot_bgcolor="white",
    font=dict(family=FONT, size=42, color="black"),
    showlegend=True,
    legend=dict(orientation="h", x=0.2538, y=1.0424, xanchor="left", yanchor="middle",
                font=dict(family=FONT, size=38, color="black"), bgcolor="rgba(0,0,0,0)",
                itemwidth=30),
    xaxis=dict(range=[0, 500], tickvals=x_ticks, ticks="outside", ticklen=8, tickcolor="black",
               tickwidth=1, showline=True, linecolor="black", linewidth=1.5, mirror=False,
               showgrid=True, gridcolor=GRID, griddash="8px,6px", gridwidth=2,
               zeroline=False, tickfont=dict(family=FONT, size=42, color="black"),
               ticklabelstandoff=2,
               minor=dict(dtick=10, ticks="inside", ticklen=7, tickcolor="black", showgrid=False),
               title=dict(text="<b>Electrolysis duration (hours)</b>",
                          font=dict(family=FONT, size=39, color="black"), standoff=28)),
    yaxis=dict(range=[0.5, 1.0], tickvals=y_ticks, tickformat=".1f", ticks="outside", ticklen=10,
               tickcolor="#808080", showline=True, linecolor="#808080", linewidth=1.5,
               showgrid=True, gridcolor=GRID, griddash="8px,6px", gridwidth=2, zeroline=False,
               tickfont=dict(family=FONT, size=42, color="black")),
    yaxis2=dict(range=[1.70, 2.00], tickvals=y2_ticks, tickformat=".2f", overlaying="y", side="right",
                ticks="outside", ticklen=10, tickcolor="black", showline=True, linecolor="black",
                linewidth=1.5, showgrid=False, zeroline=False, ticklabelstandoff=6,
                tickfont=dict(family=FONT, size=42, color=ORANGE),
                title=dict(text="<b>Resistance Ratio (R/R°*)</b>",
                           font=dict(family=FONT, size=39, color=ORANGE), standoff=10)),
)

# chart title: only its lowest strokes fall inside the picture, as in the reference
fig.add_annotation(text="<b>Deuterium Uptake and Loading Summary</b>", xref="paper", yref="paper",
                   x=0.249, y=1.0559, xanchor="left", yanchor="bottom", showarrow=False,
                   font=dict(family=FONT, size=56, color="#333399"))

fig.write_html("out.html")
